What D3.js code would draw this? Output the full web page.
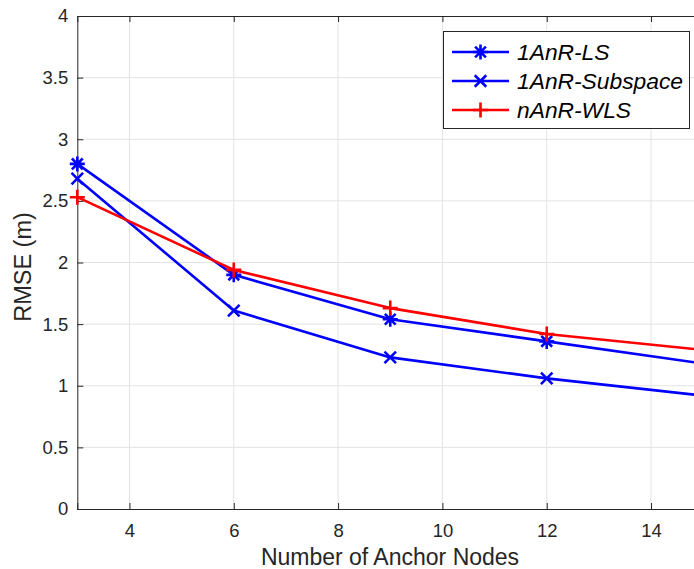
<!DOCTYPE html>
<html>
<head>
<meta charset="utf-8">
<script src="https://cdn.jsdelivr.net/npm/d3@7"></script>
<style>
  html, body { margin: 0; padding: 0; background: #fff; }
  svg { display: block; font-family: "Liberation Sans", Arial, Helvetica, sans-serif; }
</style>
</head>
<body>
<svg id="chart" width="694" height="569"></svg>
<script>
// Number of anchor nodes on the x axis
const anchorNodes = [3, 6, 9, 12, 15];

// RMSE (m) of each localisation method
const lsRmse = [2.80, 1.90, 1.54, 1.36, 1.18];
const subspaceRmse = [2.68, 1.61, 1.23, 1.06, 0.92];
const wlsRmse = [2.53, 1.94, 1.63, 1.42, 1.29];

const seriesNames = ["1AnR-LS", "1AnR-Subspace", "nAnR-WLS"];
const seriesColors = ["#0000ff", "#0000ff", "#ff0000"];
const seriesMarkers = ["asterisk", "cross", "plus"];

const xTicks = [4, 6, 8, 10, 12, 14];
const yTicks = [0, 0.5, 1, 1.5, 2, 2.5, 3, 3.5, 4];

const svg = d3.select("#chart");
const margin = { left: 77.3, top: 16, bottom: 509, right: 703.2 };

const x = d3.scaleLinear().domain([3, 15]).range([margin.left, margin.right]);
const y = d3.scaleLinear().domain([0, 4]).range([margin.bottom, margin.top]);

const axisColor = "#262626";
const gridColor = "#e3e3e3";

// grid
const grid = svg.append("g");
grid.selectAll("line.gx").data(xTicks).join("line")
  .attr("x1", d => x(d)).attr("x2", d => x(d))
  .attr("y1", margin.top).attr("y2", margin.bottom)
  .attr("stroke", gridColor).attr("stroke-width", 1);
grid.selectAll("line.gy").data(yTicks.filter(v => v > 0 && v < 4)).join("line")
  .attr("x1", margin.left).attr("x2", margin.right)
  .attr("y1", d => y(d)).attr("y2", d => y(d))
  .attr("stroke", gridColor).attr("stroke-width", 1);

// axes (ticks point inward)
const xAxis = d3.axisBottom(x).tickValues(xTicks).tickSize(-6).tickPadding(15).tickFormat(d3.format("d"));
const xTop = d3.axisTop(x).tickValues(xTicks).tickSize(-6).tickFormat("");
const yAxis = d3.axisLeft(y).tickValues(yTicks).tickSize(-6).tickPadding(9).tickFormat(d => d3.format("")(d));

function styleAxis(g) {
  g.select(".domain").attr("stroke", axisColor).attr("stroke-width", 1);
  g.selectAll(".tick line").attr("stroke", axisColor).attr("stroke-width", 1);
  g.selectAll(".tick text").attr("fill", axisColor).attr("font-size", 18.5)
    .attr("font-family", "'Liberation Sans', Arial, sans-serif");
}

svg.append("g").attr("transform", `translate(0,${margin.bottom})`).call(xAxis).call(styleAxis);
svg.append("g").attr("transform", `translate(0,${margin.top})`).call(xTop).call(styleAxis);
svg.append("g").attr("transform", `translate(${margin.left},0)`).call(yAxis).call(styleAxis);

// axis titles
svg.append("text")
  .attr("x", 390).attr("y", 565)
  .attr("text-anchor", "middle").attr("font-size", 23).attr("fill", axisColor)
  .text("Number of Anchor Nodes");
svg.append("text")
  .attr("transform", `translate(31,${267}) rotate(-90)`)
  .attr("text-anchor", "middle").attr("font-size", 23.5).attr("fill", axisColor)
  .text("RMSE (m)");

// marker shapes
function markerPath(kind, s) {
  const h = s / 2, d = h * 0.72;
  const plus = `M${-h},0L${h},0M0,${-h}L0,${h}`;
  const cross = `M${-d},${-d}L${d},${d}M${-d},${d}L${d},${-d}`;
  if (kind === "plus") return plus;
  if (kind === "cross") return cross;
  return plus + cross;
}

const series = [lsRmse, subspaceRmse, wlsRmse];
const line = d3.line().x((d, i) => x(anchorNodes[i])).y(d => y(d));

const plot = svg.append("g");
series.forEach((vals, k) => {
  const g = plot.append("g");
  g.append("path").datum(vals).attr("d", line)
    .attr("fill", "none").attr("stroke", seriesColors[k]).attr("stroke-width", 2.6)
    .attr("stroke-linejoin", "round");
  g.selectAll("path.m").data(vals).join("path")
    .attr("transform", (d, i) => `translate(${x(anchorNodes[i])},${y(d)})`)
    .attr("d", markerPath(seriesMarkers[k], seriesMarkers[k] === "cross" ? 16 : 15))
    .attr("fill", "none").attr("stroke", seriesColors[k]).attr("stroke-width", 2.6);
});

// legend
const lg = svg.append("g");
lg.append("rect").attr("x", 443.5).attr("y", 31.5).attr("width", 246).attr("height", 97)
  .attr("fill", "#fff").attr("stroke", axisColor).attr("stroke-width", 1);
seriesNames.forEach((name, k) => {
  const cy = 52 + k * 29;
  lg.append("line").attr("x1", 452).attr("x2", 509).attr("y1", cy).attr("y2", cy)
    .attr("stroke", seriesColors[k]).attr("stroke-width", 2.6);
  lg.append("path").attr("transform", `translate(480.5,${cy})`)
    .attr("d", markerPath(seriesMarkers[k], seriesMarkers[k] === "cross" ? 16 : 15))
    .attr("fill", "none").attr("stroke", seriesColors[k]).attr("stroke-width", 2.6);
  lg.append("text").attr("x", 517).attr("y", cy + 8)
    .attr("font-size", 22.8).attr("font-style", "italic").attr("fill", "#000")
    .text(name);
});
</script>
</body>
</html>
